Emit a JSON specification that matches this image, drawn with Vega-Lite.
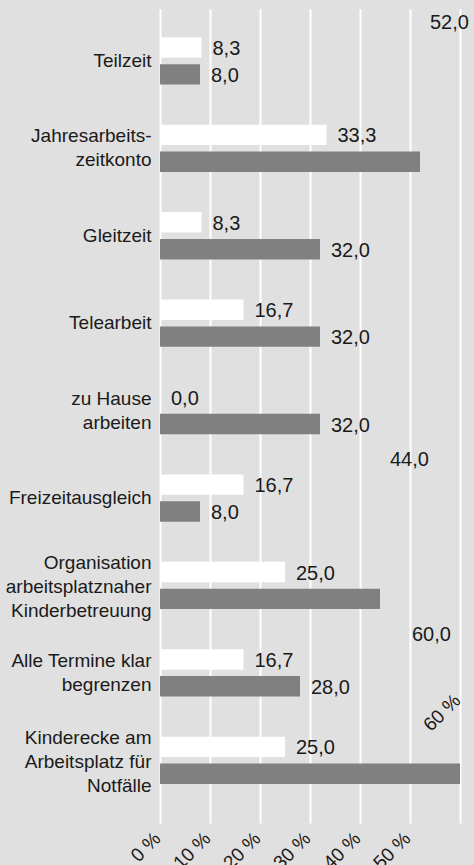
{
  "$schema": "https://vega.github.io/schema/vega-lite/v6.json",
  "autosize": {"type": "none"},
  "width": 300,
  "height": 814,
  "padding": {"left": 160, "top": 9, "right": 14, "bottom": 42},
  "background": "#e0e0e0",
  "config": {
    "view": {"stroke": null},
    "font": "Liberation Sans",
    "locale": {"number": {"decimal": ",", "thousands": ".", "grouping": [3], "currency": ["", " €"]}}
  },
  "data": {
    "values": [
      {"cat": "Teilzeit", "series": "Gruppe 1", "value": 8.3},
      {"cat": "Teilzeit", "series": "Gruppe 2", "value": 8.0},
      {"cat": "Jahresarbeits-|zeitkonto", "series": "Gruppe 1", "value": 33.3},
      {"cat": "Jahresarbeits-|zeitkonto", "series": "Gruppe 2", "value": 52.0},
      {"cat": "Gleitzeit", "series": "Gruppe 1", "value": 8.3},
      {"cat": "Gleitzeit", "series": "Gruppe 2", "value": 32.0},
      {"cat": "Telearbeit", "series": "Gruppe 1", "value": 16.7},
      {"cat": "Telearbeit", "series": "Gruppe 2", "value": 32.0},
      {"cat": "zu Hause|arbeiten", "series": "Gruppe 1", "value": 0.0},
      {"cat": "zu Hause|arbeiten", "series": "Gruppe 2", "value": 32.0},
      {"cat": "Freizeitausgleich", "series": "Gruppe 1", "value": 16.7},
      {"cat": "Freizeitausgleich", "series": "Gruppe 2", "value": 8.0},
      {"cat": "Organisation|arbeitsplatznaher|Kinderbetreuung", "series": "Gruppe 1", "value": 25.0},
      {"cat": "Organisation|arbeitsplatznaher|Kinderbetreuung", "series": "Gruppe 2", "value": 44.0},
      {"cat": "Alle Termine klar|begrenzen", "series": "Gruppe 1", "value": 16.7},
      {"cat": "Alle Termine klar|begrenzen", "series": "Gruppe 2", "value": 28.0},
      {"cat": "Kinderecke am|Arbeitsplatz für|Notfälle", "series": "Gruppe 1", "value": 25.0},
      {"cat": "Kinderecke am|Arbeitsplatz für|Notfälle", "series": "Gruppe 2", "value": 60.0}
    ]
  },
  "encoding": {
    "y": {
      "field": "cat", "type": "nominal", "sort": null, "title": null,
      "scale": {"paddingInner": 0.459, "paddingOuter": 0.385, "align": 0.42},
      "axis": {
        "domain": false, "ticks": false, "grid": false,
        "labelExpr": "split(datum.value, '|')",
        "labelFontSize": 19, "labelColor": "#1a1a1a", "labelPadding": 9,
        "labelLineHeight": 24, "labelAlign": "right", "labelBaseline": "middle",
        "labelLimit": 300,
        "labelOffset": {
          "condition": [
            {"test": "length(split(datum.value, '|')) === 2", "value": -12},
            {"test": "length(split(datum.value, '|')) === 3", "value": -22}
          ],
          "value": 0
        }
      }
    },
    "yOffset": {
      "field": "series", "type": "nominal", "sort": ["Gruppe 1", "Gruppe 2"],
      "scale": {"paddingInner": 0.24, "paddingOuter": 0}
    },
    "x": {
      "field": "value", "type": "quantitative", "title": null,
      "scale": {"domain": [0, 60], "nice": false},
      "axis": {
        "values": [0, 10, 20, 30, 40, 50, 60],
        "domain": false, "ticks": false,
        "grid": true, "gridColor": "#ffffff", "gridWidth": 2, "gridOpacity": 1,
        "labelExpr": "format(datum.value, 'd') + ' %'",
        "labelAngle": -45, "labelFontSize": 19, "labelColor": "#1a1a1a",
        "labelAlign": "right", "labelBaseline": "middle",
        "labelOffset": -3,
        "labelPadding": {"condition": {"test": "datum.value === 60", "value": -126}, "value": 12},
        "labelFlush": false, "labelOverlap": false
      }
    }
  },
  "layer": [
    {
      "mark": {"type": "bar"},
      "encoding": {
        "color": {
          "field": "series", "type": "nominal", "legend": null,
          "scale": {"domain": ["Gruppe 1", "Gruppe 2"], "range": ["#ffffff", "#808080"]}
        }
      }
    },
    {
      "transform": [{"filter": "datum.value < 40"}],
      "mark": {"type": "text", "align": "left", "baseline": "middle", "dx": 11, "dy": 1.5, "fontSize": 20, "color": "#1a1a1a"},
      "encoding": {"text": {"field": "value", "type": "quantitative", "format": ".1f"}}
    },
    {
      "transform": [{"filter": "datum.value >= 40 && datum.value < 60"}],
      "mark": {"type": "text", "align": "left", "baseline": "middle", "dx": 10, "dy": -139, "fontSize": 20, "color": "#1a1a1a"},
      "encoding": {"text": {"field": "value", "type": "quantitative", "format": ".1f"}}
    },
    {
      "transform": [{"filter": "datum.value >= 60"}],
      "mark": {"type": "text", "align": "left", "baseline": "middle", "dx": -48, "dy": -139, "fontSize": 20, "color": "#1a1a1a"},
      "encoding": {"text": {"field": "value", "type": "quantitative", "format": ".1f"}}
    }
  ]
}
